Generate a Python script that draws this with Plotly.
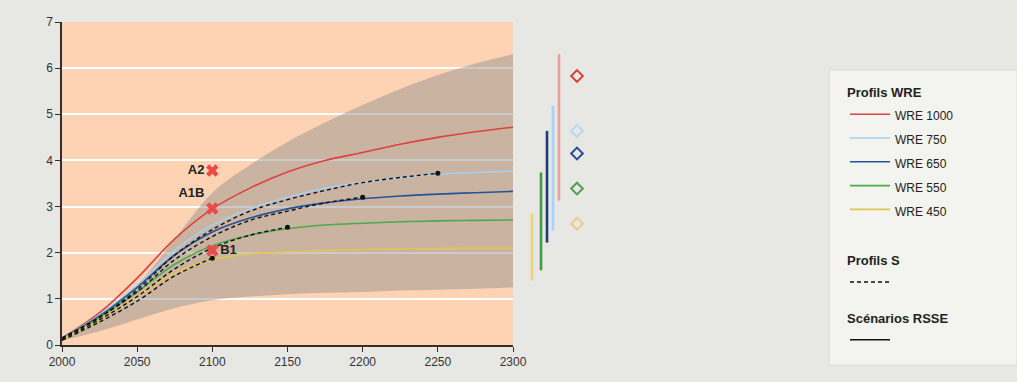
import plotly.graph_objects as go

# ---------------- data ----------------
years = [2000, 2025, 2050, 2075, 2100, 2125, 2150, 2175, 2200, 2225, 2250, 2275, 2300]

band_upper = [0.15, 0.65, 1.3, 2.3, 3.3, 3.9, 4.4, 4.82, 5.2, 5.55, 5.85, 6.1, 6.3]
band_lower = [0.1, 0.3, 0.55, 0.8, 0.97, 1.05, 1.1, 1.13, 1.15, 1.18, 1.2, 1.22, 1.25]

wre_names = ["WRE 1000", "WRE 750", "WRE 650", "WRE 550", "WRE 450"]
wre_1000 = [0.15, 0.7, 1.45, 2.3, 2.95, 3.4, 3.75, 4.0, 4.17, 4.35, 4.5, 4.62, 4.72]
wre_750 = [0.15, 0.65, 1.3, 2.05, 2.6, 2.95, 3.2, 3.4, 3.52, 3.62, 3.7, 3.74, 3.77]
wre_650 = [0.15, 0.63, 1.25, 1.95, 2.45, 2.75, 2.95, 3.08, 3.17, 3.23, 3.27, 3.3, 3.33]
wre_550 = [0.14, 0.6, 1.15, 1.75, 2.15, 2.38, 2.52, 2.6, 2.64, 2.67, 2.69, 2.7, 2.71]
wre_450 = [0.13, 0.55, 1.05, 1.55, 1.85, 1.97, 2.02, 2.05, 2.07, 2.08, 2.09, 2.1, 2.1]
wre_series = [wre_1000, wre_750, wre_650, wre_550, wre_450]

s_750 = [0.15, 0.6, 1.2, 1.95, 2.5, 2.9, 3.15, 3.35, 3.52, 3.63, 3.72]
s_650 = [0.15, 0.6, 1.15, 1.85, 2.35, 2.7, 2.9, 3.08, 3.2]
s_550 = [0.12, 0.55, 1.05, 1.65, 2.1, 2.38, 2.55]
s_450 = [0.1, 0.5, 0.95, 1.5, 1.88]
s_series = [s_750, s_650, s_550, s_450]

sres_names = ["A2", "A1B", "B1"]
sres_year = [2100, 2100, 2100]
sres_values = [3.78, 2.96, 2.05]

# equilibrium ranges (bars) and best estimates (diamonds), order = wre_names
eq_low = [3.13, 2.48, 2.22, 1.62, 1.40]
eq_high = [6.3, 5.18, 4.64, 3.74, 2.85]
eq_best = [5.83, 4.64, 4.15, 3.39, 2.63]

y_ticks = [0, 1, 2, 3, 4, 5, 6, 7]
x_ticks = [2000, 2050, 2100, 2150, 2200, 2250, 2300]

# ---------------- style ----------------
W, H = 1017, 382
ML, MR, MT, MB = 62, 0, 22, 37
PW = W - ML - MR
PH = H - MT - MB

def px_x(p):
    return (p - ML) / PW

def px_y(p):
    return (H - MB - p) / PH

paper_col = "#E7E7E3"
orange = "#FDD3B3"
axis_col = "#3A2C24"
wre_colors = ["#DC423E", "#A6D0EE", "#24549A", "#4CAA4E", "#E3C552"]
bar_colors = ["#EE9C9A", "#A6D4F2", "#1D3C78", "#3E9C40", "#EBD37E"]
diam_colors = ["#D8403C", "#B8D8F2", "#2A4C98", "#4E9E58", "#F3C98A"]
bar_slot = [39, 33, 27, 21, 12]
diam_slot = 57
SM = 1.0

fig = go.Figure()

# uncertainty band
fig.add_trace(go.Scatter(x=years, y=band_lower, mode="lines",
                         line=dict(width=0, shape="spline", smoothing=SM),
                         showlegend=False, hoverinfo="skip"))
fig.add_trace(go.Scatter(x=years, y=band_upper, mode="lines",
                         line=dict(width=0, shape="spline", smoothing=SM),
                         fill="tonexty", fillcolor="rgba(140,140,140,0.45)",
                         showlegend=False, hoverinfo="skip"))

def span(t, size):
    return f'<span style="font-size:{size}px">{t}</span>'

# WRE curves
for i, (name, ys) in enumerate(zip(wre_names, wre_series)):
    fig.add_trace(go.Scatter(
        x=years, y=ys, mode="lines", name=span(name, 12),
        line=dict(color=wre_colors[i], width=1.6, shape="spline", smoothing=SM),
        legend="legend",
    ))

# S profiles (dashed, ending with a dot)
for j, ys in enumerate(s_series):
    xs = years[:len(ys)]
    fig.add_trace(go.Scatter(
        x=xs, y=ys, mode="lines", name=" ",
        line=dict(color="#111", width=1.4, dash="4px,3px", shape="spline", smoothing=SM),
        legend="legend2", showlegend=(j == 0),
    ))
    fig.add_trace(go.Scatter(
        x=[xs[-1]], y=[ys[-1]], mode="markers",
        marker=dict(color="#111", size=5), showlegend=False, hoverinfo="skip"))

# SRES scenarios (legend entry is a solid black line)
fig.add_trace(go.Scatter(
    x=[None], y=[None], mode="lines", name=" ",
    line=dict(color="#111", width=1.4), legend="legend3",
))
fig.add_trace(go.Scatter(
    x=sres_year, y=sres_values, mode="markers+text", text=sres_names,
    textposition=["middle left", "top left", "middle right"],
    textfont=dict(size=13, color="#222", family="Liberation Sans, Arial", weight="bold"),
    marker=dict(symbol="x", size=11, color="#EC4A48", line=dict(width=0)),
    showlegend=False, cliponaxis=False,
))

# equilibrium bars and diamonds in the side panel
for i in range(len(wre_names)):
    fig.add_trace(go.Scatter(
        x=[bar_slot[i], bar_slot[i]], y=[eq_low[i], eq_high[i]], mode="lines",
        line=dict(color=bar_colors[i], width=2.6),
        xaxis="x2", yaxis="y2", showlegend=False, hoverinfo="skip"))
    fig.add_trace(go.Scatter(
        x=[diam_slot], y=[eq_best[i]], mode="markers",
        marker=dict(symbol="diamond-open", size=9, color=diam_colors[i],
                    line=dict(width=2, color=diam_colors[i])),
        xaxis="x2", yaxis="y2", showlegend=False, hoverinfo="skip"))

font_fam = "Liberation Sans, Arial, sans-serif"

def legend_box(title, top_px, title_size):
    return dict(x=px_x(845), y=px_y(top_px), xanchor="left", yanchor="top",
                bgcolor="rgba(0,0,0,0)", borderwidth=0,
                font=dict(size=16, color="#222", family=font_fam),
                itemwidth=40, traceorder="normal",
                title=dict(text="<b>" + span(title, 13) + "</b>",
                           font=dict(size=title_size, color="#222", family=font_fam)))

fig.update_layout(
    width=W, height=H,
    margin=dict(l=ML, r=MR, t=MT, b=MB, autoexpand=False),
    paper_bgcolor=paper_col, plot_bgcolor=paper_col,
    font=dict(family=font_fam, size=12, color="#2a2a2a"),
    xaxis=dict(domain=[0, px_x(513)], range=[2000, 2300], tickvals=x_ticks,
               showgrid=False, zeroline=False, showline=True, linecolor=axis_col,
               linewidth=1.5, ticks="outside", ticklen=5, tickcolor=axis_col,
               tickwidth=1.2, tickfont=dict(size=12, color="#333"), automargin=False),
    yaxis=dict(domain=[0, 1], range=[0, 7], tickvals=y_ticks,
               showgrid=True, gridcolor="#FFFFFF", gridwidth=1.5, zeroline=False,
               showline=True, linecolor=axis_col, linewidth=1.5,
               ticks="outside", ticklen=5, tickcolor=axis_col, tickwidth=1.2,
               tickfont=dict(size=12, color="#333"), automargin=False),
    xaxis2=dict(domain=[px_x(520), px_x(590)], range=[0, 70], anchor="y2",
                visible=False),
    yaxis2=dict(domain=[0, 1], range=[0, 7], anchor="x2", visible=False),
    legend=legend_box("Profils WRE", 70, 21),
    legend2=legend_box("Profils S", 243, 17),
    legend3=legend_box("Scénarios RSSE", 302, 16),
    shapes=[
        dict(type="rect", xref="x", yref="y", x0=2000, x1=2302, y0=0, y1=7,
             fillcolor=orange, line=dict(width=0), layer="below"),
        dict(type="rect", xref="paper", yref="paper", x0=px_x(829), x1=px_x(1017),
             y0=px_y(365), y1=px_y(70), fillcolor="#F3F3EF",
             line=dict(color="#DADAD5", width=1), layer="below"),
    ],
)

fig.write_html("out.html",
               config={"displayModeBar": False},
               post_script="document.body.style.margin='0px';"
                           "document.body.style.overflow='hidden';")
